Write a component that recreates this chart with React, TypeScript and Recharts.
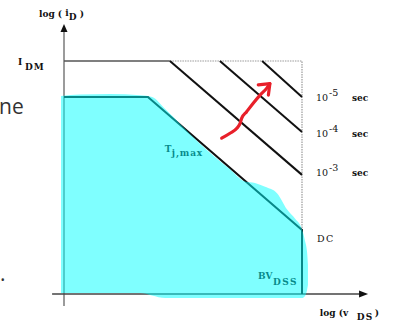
import React from 'react';
import { ComposedChart, XAxis, YAxis, Line, Area, ReferenceDot } from 'recharts';

// Drawing grid: x = log(v_DS), y = log(i_D), both in arbitrary decades.
// The current axis sits at x = 1, the voltage axis at y = 0.5.

// axes
const currentAxisXs = [1, 1];
const currentAxisYs = [0.09, 9.56];
const voltageAxisXs = [0.6, 10.98];
const voltageAxisYs = [0.5, 0.5];

// I_DM limit and the border of the pulsed-operation box
const idmXs = [1, 4.56];
const idmYs = [8.5, 8.5];
const boxXs = [4.56, 9, 9];
const boxYs = [8.5, 8.5, 2.7];

// pulse-duration limits
const pulse1msXs = [4.56, 9];
const pulse1msYs = [8.5, 4.59];
const pulse100usXs = [6.24, 9];
const pulse100usYs = [8.5, 6.06];
const pulse10usXs = [7.66, 9];
const pulse10usYs = [8.5, 7.26];

// DC boundary: current limit, Tj,max slope, then the BV_DSS drop
const dcXs = [1, 3.82, 9, 9];
const dcYs = [7.26, 7.26, 2.7, 0.5];

// hand-shaded safe region
const safeXs = [0.9, 1.54, 2.55, 3.56, 3.96, 4.4, 5.57, 6.58, 7.08, 7.42, 7.76, 8.16, 8.5, 8.77, 9.0, 9.1, 9.17, 9.2];
const safeTops = [7.3, 7.35, 7.37, 7.32, 7.26, 6.85, 5.66, 4.78, 4.36, 4.31, 4.18, 3.96, 3.4, 3.08, 2.72, 2.33, 1.95, 1.5];
const safeBottoms = [0.53, 0.53, 0.53, 0.53, 0.45, 0.36, 0.36, 0.36, 0.36, 0.36, 0.36, 0.36, 0.36, 0.36, 0.36, 0.43, 0.64, 0.81];

// red hand-drawn arrow
const strokeXs = [6.3, 6.58, 6.81, 6.92, 6.97, 7.14, 7.36, 7.59, 7.81, 7.92];
const strokeYs = [5.85, 6.02, 6.19, 6.36, 6.53, 6.76, 7.05, 7.33, 7.56, 7.72];
const headXs = [7.53, 7.92, 7.87];
const headYs = [7.68, 7.72, 7.33];

// curve labels
const pulseExponents = ['-5', '-4', '-3'];
const pulseLabelYs = [7.13, 5.89, 4.55];

const pts = (xs: number[], ys: number[]) => xs.map((x, i) => ({ x, y: ys[i] }));
const safeData = safeXs.map((x, i) => ({ x, range: [safeBottoms[i], safeTops[i]] }));

const SERIF = '"DejaVu Serif", serif';
const INK = '#111';

const note = (key: string, x: number, y: number, content: React.ReactNode) => (
  <ReferenceDot
    key={key}
    x={x}
    y={y}
    r={0}
    ifOverflow="visible"
    shape={(p: any) => <g transform={`translate(${p.cx},${p.cy})`}>{content}</g>}
  />
);

const plainLine = (key: string, xs: number[], ys: number[], stroke: string, width: number, dash?: string) => (
  <Line
    key={key}
    data={pts(xs, ys)}
    dataKey="y"
    type="linear"
    stroke={stroke}
    strokeWidth={width}
    strokeDasharray={dash}
    dot={false}
    activeDot={false}
    isAnimationActive={false}
  />
);

export default function App() {
  return (
    <div style={{ position: 'absolute', left: 0, top: 0, width: 394, height: 322, background: '#fff' }}>
      <div style={{ position: 'absolute', left: -1, top: 92, fontFamily: '"Open Sans", sans-serif', fontSize: 21, color: '#333' }}>ne</div>
      <div style={{ position: 'absolute', left: 0, top: 259, fontFamily: '"Open Sans", sans-serif', fontSize: 21, color: '#333' }}>.</div>
      <ComposedChart
        width={394}
        height={322}
        margin={{ top: 17.31, right: 2.75, bottom: 13.44, left: 34.25 }}
        style={{ position: 'absolute', left: 0, top: 0 }}
      >
        <XAxis type="number" dataKey="x" domain={[0, 12]} allowDataOverflow hide />
        <YAxis type="number" domain={[0, 10]} allowDataOverflow hide />

        {plainLine('vaxis', currentAxisXs, currentAxisYs, '#7a7a7a', 1.5)}
        {plainLine('haxis', voltageAxisXs, voltageAxisYs, '#444', 1.5)}
        {plainLine('box', boxXs, boxYs, '#9a9a9a', 1.2, '1.5 1')}
        {plainLine('idm', idmXs, idmYs, '#555', 1.5)}
        {plainLine('p1ms', pulse1msXs, pulse1msYs, INK, 2)}
        {plainLine('p100us', pulse100usXs, pulse100usYs, INK, 2)}
        {plainLine('p10us', pulse10usXs, pulse10usYs, INK, 2)}
        {plainLine('dc', dcXs, dcYs, INK, 2)}

        <Line
          data={pts(strokeXs, strokeYs)}
          dataKey="y"
          type="monotone"
          stroke="#e8202a"
          strokeWidth={3.2}
          strokeLinecap="round"
          strokeLinejoin="round"
          dot={false}
          activeDot={false}
          isAnimationActive={false}
        />
        <Line
          data={pts(headXs, headYs)}
          dataKey="y"
          type="linear"
          stroke="#e8202a"
          strokeWidth={3.2}
          strokeLinecap="round"
          strokeLinejoin="round"
          dot={false}
          activeDot={false}
          isAnimationActive={false}
        />

        {note('yarrow', 1, 9.77, <polygon points="0,0 -3.5,8 3.5,8" fill="#111" />)}
        {note('xarrow', 11.22, 0.5, <polygon points="0,0 -9,-3.5 -9,3.5" fill="#111" />)}

        {note('ylabel', 0.16, 10.01, (
          <text fontFamily={SERIF} fontSize={9} fontWeight="bold" fill={INK}>
            log ( <tspan dy={-1}>i</tspan><tspan dy={4}>D</tspan><tspan dy={-3}> )</tspan>
          </text>
        ))}
        {note('idm-label', -0.55, 8.37, (
          <text fontFamily={SERIF} fontSize={9} fontWeight="bold" fill={INK}>
            I<tspan x={7} dy={5} letterSpacing={1}>DM</tspan>
          </text>
        ))}
        {pulseExponents.map((e, i) =>
          note('pulse' + i, 9.47, pulseLabelYs[i], (
            <text fontFamily={SERIF} fontSize={9.5} fill={INK}>
              10<tspan x={13} dy={-5}>{e}</tspan>
              <tspan x={36} dy={5} fontWeight="bold" fontSize={9}>sec</tspan>
            </text>
          ))
        )}
        {note('dc-label', 9.5, 2.29, (
          <text fontFamily={SERIF} fontSize={9.5} fill={INK} letterSpacing={1.5}>DC</text>
        ))}
        {note('tj-label', 4.39, 5.38, (
          <text fontFamily={SERIF} fontSize={9} fontWeight="bold" fill={INK}>
            T<tspan x={7} dy={4} letterSpacing={0.8}>j,max</tspan>
          </text>
        ))}
        {note('bv-label', 7.52, 1.03, (
          <text fontFamily={SERIF} fontSize={9} fontWeight="bold" fill={INK}>
            BV<tspan x={15} dy={6} letterSpacing={1.5}>DSS</tspan>
          </text>
        ))}
        {note('xlabel', 9.6, -0.25, (
          <text fontFamily={SERIF} fontSize={9} fontWeight="bold" fill={INK}>
            log (v<tspan x={37} dy={4} letterSpacing={1.2}>DS</tspan><tspan x={55} dy={-4}>)</tspan>
          </text>
        ))}

        <Area
          data={safeData}
          dataKey="range"
          type="monotone"
          stroke="none"
          fill="#00ffff"
          fillOpacity={0.5}
          isAnimationActive={false}
          activeDot={false}
          zIndex={5000}
        />
      </ComposedChart>
    </div>
  );
}
